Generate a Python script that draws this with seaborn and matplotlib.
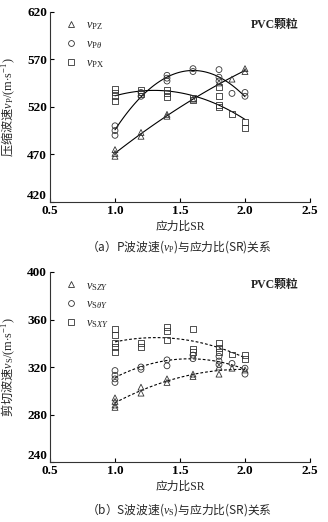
import numpy as np
import pandas as pd
import matplotlib
matplotlib.use("Agg")
import matplotlib.pyplot as plt
from matplotlib.lines import Line2D
import seaborn as sns

# ---------------- data ----------------
sr_pz = [1.0, 1.0, 1.0, 1.2, 1.2, 1.4, 1.4, 1.6, 1.8, 1.9, 2.0, 2.0]
v_pz = [475, 471, 468, 493, 489, 512, 510, 528, 545, 549, 560, 557]

sr_p0 = [1.0, 1.0, 1.0, 1.2, 1.2, 1.4, 1.4, 1.4, 1.6, 1.6, 1.8, 1.8, 1.8, 1.9, 2.0, 2.0]
v_p0 = [500, 495, 490, 535, 531, 553, 550, 547, 560, 557, 559, 551, 547, 534, 535, 531]

sr_px = [1.0, 1.0, 1.0, 1.0, 1.2, 1.2, 1.2, 1.4, 1.4, 1.4, 1.6, 1.6, 1.8, 1.8, 1.8, 1.8, 1.9, 2.0, 2.0]
v_px = [539, 535, 531, 526, 538, 535, 533, 538, 534, 530, 529, 527, 541, 531, 522, 520, 512, 504, 498]

sr_szy = [1.0, 1.0, 1.0, 1.0, 1.2, 1.2, 1.4, 1.4, 1.6, 1.6, 1.8, 1.8, 1.9, 2.0]
v_szy = [294, 291, 288, 286, 303, 298, 310, 307, 314, 312, 320, 314, 319, 317.5]

sr_s0y = [1.0, 1.0, 1.0, 1.0, 1.2, 1.2, 1.4, 1.4, 1.6, 1.6, 1.8, 1.8, 1.8, 1.9, 2.0, 2.0]
v_s0y = [317, 313, 310, 307, 320, 318, 326, 321, 330, 327, 329, 325, 322, 323, 319, 314]

sr_sxy = [1.0, 1.0, 1.0, 1.0, 1.0, 1.2, 1.2, 1.4, 1.4, 1.4, 1.6, 1.6, 1.6, 1.8, 1.8, 1.8, 1.9, 2.0, 2.0]
v_sxy = [352, 347, 340, 337, 333, 340, 337, 354, 350, 343, 352, 335, 333, 340, 336, 333, 330.5, 330, 327]

p_labels = [r"$v_{\mathrm{PZ}}$", r"$v_{\mathrm{P}\theta}$", r"$v_{\mathrm{PX}}$"]
s_labels = [r"$v_{\mathrm{S}ZY}$", r"$v_{\mathrm{S}\theta Y}$", r"$v_{\mathrm{S}XY}$"]
x_ticks = [0.5, 1.0, 1.5, 2.0, 2.5]
p_ticks = [420, 470, 520, 570, 620]
s_ticks = [240, 280, 320, 360, 400]

# ---------------- style ----------------
sns.set_theme(style="ticks")
plt.rcParams["font.family"] = ["Liberation Serif", "Noto Sans CJK SC"]
plt.rcParams["mathtext.fontset"] = "custom"
plt.rcParams["mathtext.rm"] = "Liberation Serif"
plt.rcParams["mathtext.it"] = "Liberation Serif:italic"
plt.rcParams["mathtext.bf"] = "Liberation Serif:bold"
CJK = "Noto Sans CJK SC"

EC = "#333333"
markers = ["^", "o", "s"]

fig = plt.figure(figsize=(3.28, 5.22), dpi=100)
ax1 = fig.add_axes([50 / 328, 1 - 202 / 522, 260 / 328, 190.5 / 522])
ax2 = fig.add_axes([50 / 328, 1 - 462 / 522, 260 / 328, 190 / 522])


def draw(ax, series, labels, ticks, ylabel, dashed):
    for (x, y), m in zip(series, markers):
        df = pd.DataFrame({"SR": x, "v": y})
        sns.regplot(data=df, x="SR", y="v", order=2, ci=None, scatter=False, ax=ax,
                    line_kws=dict(color="black", lw=0.8,
                                  ls=(0, (2.5, 1.8)) if dashed else "-"))
        sns.scatterplot(data=df, x="SR", y="v", marker=m, s=18, facecolor="none",
                        edgecolor=EC, linewidth=0.6, ax=ax, zorder=3)
    ax.set_xlim(0.5, 2.5)
    ax.set_ylim(ticks[0], ticks[-1])
    ax.set_xticks(x_ticks)
    ax.set_yticks(ticks)
    ax.set_xticklabels([f"{t:.1f}" for t in x_ticks], fontsize=9.5, fontweight="bold")
    ax.set_yticklabels([str(t) for t in ticks], fontsize=9.5, fontweight="bold")
    ax.get_yticklabels()[0].set_va("bottom")
    ax.tick_params(direction="in", length=3, width=0.8, pad=2, colors="black")
    for s in ["top", "right"]:
        ax.spines[s].set_visible(False)
    for s in ["left", "bottom"]:
        ax.spines[s].set_linewidth(0.8)
        ax.spines[s].set_color("#333333")
    ax.set_xlabel("应力比SR", fontsize=8.5, labelpad=3)
    ax.set_ylabel(ylabel, fontsize=8.8, family=CJK)
    ax.yaxis.set_label_coords(-0.125, 0.5)
    handles = [Line2D([], [], ls="none", marker=m, markersize=4.2, markerfacecolor="none",
                      markeredgecolor=EC, markeredgewidth=0.6) for m in markers]
    ax.legend(handles, labels, loc="upper left", bbox_to_anchor=(0.035, 0.985),
              frameon=False, fontsize=8.8, labelspacing=0.5, handletextpad=0.6,
              borderaxespad=0, handlelength=1.2)
    ax.text(0.955, 0.93, "PVC颗粒", transform=ax.transAxes, ha="right", va="center",
            fontsize=8.5, fontweight="bold")


draw(ax1, [(sr_pz, v_pz), (sr_p0, v_p0), (sr_px, v_px)], p_labels, p_ticks,
     r"压缩波速$v_{\mathrm{P}}/(\mathrm{m{\cdot}s}^{-1})$", False)
draw(ax2, [(sr_szy, v_szy), (sr_s0y, v_s0y), (sr_sxy, v_sxy)], s_labels, s_ticks,
     r"剪切波速$v_{\mathrm{S}}/(\mathrm{m{\cdot}s}^{-1})$", True)

fig.text(0.545, 1 - 247 / 522, r"（a）P波波速($v_{\mathrm{P}}$)与应力比(SR)关系",
         ha="center", va="center", fontsize=8.5, family=CJK)
fig.text(0.545, 1 - 510 / 522, r"（b）S波波速($v_{\mathrm{S}}$)与应力比(SR)关系",
         ha="center", va="center", fontsize=8.5, family=CJK)

fig.savefig("out.png", dpi=100, facecolor="white")
